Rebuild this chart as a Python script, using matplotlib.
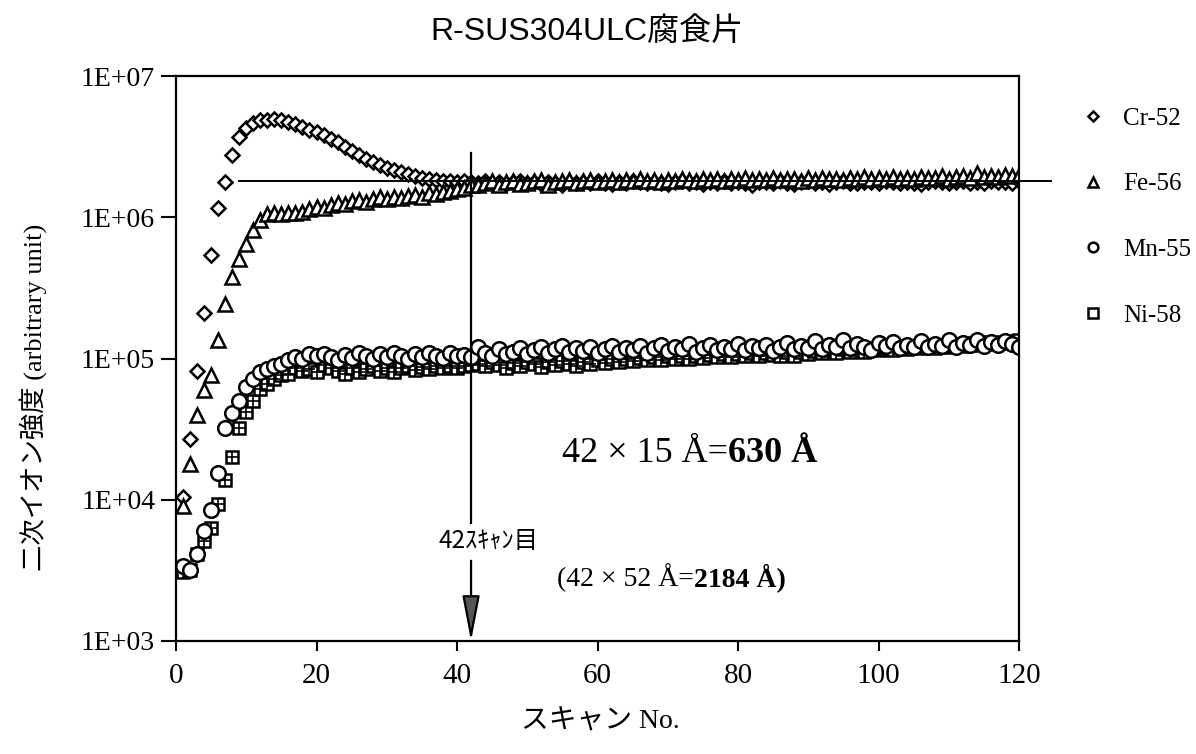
import numpy as np
import matplotlib
matplotlib.use("Agg")
import matplotlib.pyplot as plt

# scan number 1..120, intensities in units of 1e3 counts
scans = list(range(1, 121))

cr52 = [10.5, 27, 82, 210, 540, 1170, 1780, 2760, 3700, 4250,
        4650, 4850, 4900, 4950, 4900, 4700, 4550, 4350, 4150, 4000,
        3800, 3600, 3400, 3150, 2950, 2750, 2600, 2450, 2350, 2250,
        2150, 2100, 2020, 1960, 1900, 1870, 1850, 1820, 1800, 1780,
        1810, 1790, 1760, 1800, 1740, 1780, 1720, 1770, 1800, 1750,
        1790, 1730, 1780, 1760, 1700, 1790, 1750, 1770, 1740, 1800,
        1760, 1720, 1780, 1750, 1800, 1770, 1740, 1790, 1760, 1730,
        1780, 1800, 1750, 1770, 1720, 1790, 1760, 1800, 1740, 1780,
        1760, 1700, 1790, 1770, 1750, 1800, 1760, 1730, 1780, 1800,
        1750, 1790, 1710, 1770, 1800, 1760, 1740, 1790, 1770, 1750,
        1800, 1780, 1740, 1790, 1760, 1720, 1780, 1810, 1770, 1740,
        1790, 1800, 1760, 1780, 1750, 1800, 1770, 1790, 1760, 1800]

fe56 = [9, 18, 40, 60, 76, 136, 245, 380, 510, 650,
        810, 950, 1050, 1070, 1060, 1080, 1070, 1090, 1150, 1180,
        1170, 1220, 1260, 1240, 1300, 1330, 1290, 1350, 1380, 1340,
        1400, 1370, 1420, 1440, 1400, 1480, 1450, 1500, 1530, 1580,
        1620, 1700, 1680, 1750, 1800, 1700, 1780, 1820, 1720, 1760,
        1800, 1830, 1700, 1770, 1810, 1840, 1760, 1800, 1830, 1780,
        1820, 1850, 1790, 1830, 1800, 1860, 1810, 1840, 1790, 1850,
        1820, 1870, 1830, 1800, 1860, 1830, 1880, 1820, 1860, 1840,
        1890, 1830, 1870, 1850, 1900, 1840, 1880, 1860, 1820, 1890,
        1850, 1910, 1860, 1880, 1840, 1900, 1870, 1920, 1860, 1890,
        1870, 1930, 1880, 1900, 1870, 1940, 1890, 1910, 1950, 1880,
        1920, 1960, 1900, 2050, 1930, 1970, 1940, 2000, 1960, 1980]

mn55 = [3.4, 3.2, 4.1, 6.0, 8.4, 15.5, 32, 41, 50, 63,
        72, 80, 84, 89, 92, 97, 102, 100, 107, 104,
        108, 103, 98, 106, 101, 110, 104, 99, 107, 102,
        109, 104, 100, 108, 103, 110, 105, 101, 109, 104,
        106, 102, 120, 110, 105, 116, 108, 112, 118, 107,
        114, 120, 110, 116, 122, 111, 118, 113, 121, 109,
        117, 123, 112, 119, 114, 122, 110, 118, 125, 113,
        120, 116, 126, 112, 119, 124, 114, 121, 117, 127,
        115, 122, 118, 125, 113, 120, 128, 116, 123, 119,
        133, 117, 124, 120, 135, 118, 126, 121, 114, 128,
        122, 130, 119, 125, 121, 132, 120, 127, 123, 135,
        121, 128, 124, 136, 122, 130, 125, 133, 127, 120]

ni58 = [3.1, 3.2, 4.1, 5.1, 6.3, 9.4, 13.7, 20, 32, 42,
        50, 61, 66, 72, 76, 78, 86, 82, 84, 80,
        90, 85, 82, 78, 86, 80, 84, 88, 82, 86,
        80, 85, 89, 83, 87, 84, 88, 85, 89, 86,
        88, 90, 92, 88, 94, 90, 86, 93, 89, 95,
        91, 87, 94, 90, 96, 92, 88, 95, 91, 97,
        93, 99, 94, 100, 96, 101, 97, 103, 98, 104,
        99, 105, 100, 104, 101, 106, 102, 107, 103, 108,
        104, 109, 105, 110, 106, 104, 111, 105, 112, 108,
        113, 109, 114, 110, 116, 111, 117, 112, 118, 114,
        119, 115, 121, 116, 122, 118, 124, 119, 125, 121,
        127, 122, 128, 124, 130, 126, 131, 128, 133, 135]

plateau = 1820      # x1e3, reference line level
mark_scan = 42

ytick_vals = [1e3, 1e4, 1e5, 1e6, 1e7]
ytick_labels = ["1E+03", "1E+04", "1E+05", "1E+06", "1E+07"]
xtick_vals = [0, 20, 40, 60, 80, 100, 120]

SERIF = ["Liberation Serif", "DejaVu Serif"]
JP = ["Noto Sans CJK JP", "DejaVu Sans"]
JP_SERIF = ["Liberation Serif", "Noto Sans CJK JP"]

fig = plt.figure(figsize=(11.96, 7.54), dpi=100)
ax = fig.add_axes([176 / 1196, 1 - 641 / 754, (1019 - 176) / 1196, (641 - 76) / 754])

x = np.array(scans)
k = 1e3
mk = dict(ls="none", mfc="white", mec="black", mew=1.8)

ax.plot(x, np.array(cr52) * k, marker="D", ms=7.5, **mk)
ax.plot(x, np.array(fe56) * k, marker="^", ms=10, **mk)
ax.plot(x, np.array(ni58) * k, marker="s", ms=8.5, **mk)
ax.plot(x, np.array(ni58) * k, ls="none", marker="+", ms=8.5, mec="black", mew=1.2)
ax.plot(x, np.array(mn55) * k, marker="o", ms=10.5, **mk)

# reference line at the plateau level
ax.plot([9, 124.6], [plateau * k, plateau * k], color="black", lw=1.4, clip_on=False)

# marker for scan 42
ax.plot([mark_scan, mark_scan], [2.84e6, 6.8e3], color="black", lw=1.6)
ax.annotate("", xy=(mark_scan, 1e3), xytext=(mark_scan, 3.7e3),
            arrowprops=dict(arrowstyle="-|>,head_length=1.4,head_width=0.27",
                            mutation_scale=20, lw=1.6, fc="#555555", ec="black",
                            shrinkA=0, shrinkB=0))
ax.text(37.3, 5.1e3, "42ｽｷｬﾝ目", family=JP, fontsize=17.5, ha="left", va="center")

t1 = ax.text(54.9, 2.12e4, "42 × 15 Å=", family=SERIF, fontsize=26, ha="left", va="center")
ax.annotate("630 Å", xy=(1, 0), xycoords=t1, family=SERIF, fontsize=26,
            fontweight="bold", ha="left", va="bottom")
t2 = ax.text(54.2, 2.8e3, "(42 × 52 Å=", family=SERIF, fontsize=20, ha="left", va="center")
ax.annotate("2184 Å)", xy=(1, 0), xycoords=t2, family=SERIF, fontsize=20,
            fontweight="bold", ha="left", va="bottom")

ax.set_yscale("log")
ax.set_xlim(0, 120)
ax.set_ylim(1e3, 1e7)
ax.set_yticks(ytick_vals, labels=ytick_labels)
ax.yaxis.set_minor_locator(matplotlib.ticker.NullLocator())
ax.set_xticks(xtick_vals)
ax.tick_params(axis="y", direction="out", length=11, width=1.5, pad=4, labelsize=20)
ax.tick_params(axis="x", direction="out", length=7, width=1.5, pad=9, labelsize=21)
for lab in ax.get_xticklabels() + ax.get_yticklabels():
    lab.set_family(SERIF)
for sp in ax.spines.values():
    sp.set_linewidth(1.6)

# legend
h_cr, = ax.plot([], [], marker="D", ms=5.5, **mk)
h_fe, = ax.plot([], [], marker="^", ms=7, **mk)
h_mn, = ax.plot([], [], marker="o", ms=7, **mk)
h_ni, = ax.plot([], [], marker="s", ms=6.5, **mk)
leg = fig.legend([h_cr, h_fe, h_mn, h_ni], ["Cr-52", "Fe-56", "Mn-55", "Ni-58"],
                 loc="upper left", bbox_to_anchor=(1058 / 1196, 1 - 85 / 754),
                 frameon=False, labelspacing=1.72, handlelength=1.0,
                 handletextpad=0.7, prop={"family": SERIF, "size": 18})

fig.text(0.491, 0.958, "R-SUS304ULC腐食片", family=["Liberation Sans", "Noto Sans CJK JP"],
         fontsize=23, ha="center", va="center")
fig.text(0.502, 0.042, "スキャン No.", family=JP_SERIF, fontsize=20, ha="center", va="center")
fig.text(0.028, 0.473, "二次イオン強度 (arbitrary unit)", family=JP_SERIF, fontsize=19,
         rotation=90, ha="center", va="center")

fig.savefig("out.png", dpi=100)
